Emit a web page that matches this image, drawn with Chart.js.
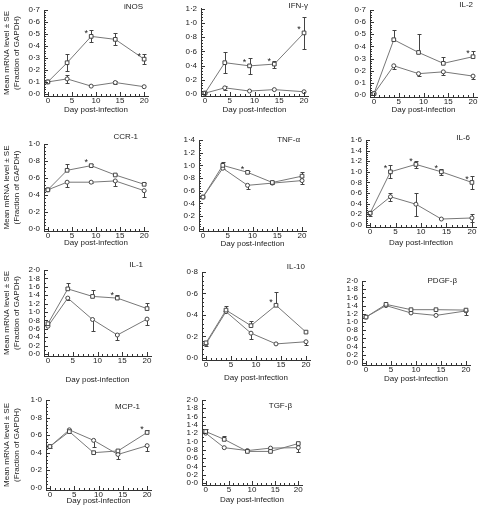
<!DOCTYPE html>
<html>
<head>
<meta charset="utf-8">
<script src="https://cdn.jsdelivr.net/npm/chart.js@4.4.0/dist/chart.umd.min.js"></script>
<style>
html, body { margin: 0; padding: 0; background: #fff; width: 481px; height: 505px; overflow: hidden; }
#wrap { position: relative; width: 481px; height: 505px; }
canvas { position: absolute; }
</style>
</head>
<body>
<div id="wrap"></div>
<script>
'use strict';
// sampling days, shared by all panels
var days = [0, 4, 9, 14, 20];
var xTickLabels = [0, 5, 10, 15, 20];

// iNOS
var inosA = [0.10, 0.26, 0.48, 0.455, 0.29];
var inosAErr = [0, 0.07, 0.05, 0.05, 0.04];
var inosB = [0.10, 0.125, 0.065, 0.095, 0.06];
var inosBErr = [0, 0.03, 0, 0.01, 0];
var inosStars = [2, 4];
// IFN-gamma
var ifnA = [0.01, 0.44, 0.395, 0.42, 0.86];
var ifnAErr = [0, 0.145, 0.115, 0.05, 0.22];
var ifnB = [0.01, 0.085, 0.04, 0.06, 0.03];
var ifnBErr = [0, 0.03, 0, 0, 0];
var ifnStars = [2, 3, 4];
// IL-2
var il2A = [0.01, 0.455, 0.35, 0.26, 0.315];
var il2AErr = [0, 0.08, 0.15, 0.05, 0.045];
var il2B = [0.01, 0.24, 0.175, 0.19, 0.155];
var il2BErr = [0, 0.03, 0.02, 0.025, 0.025];
var il2Stars = [4];
// CCR-1
var ccrA = [0.46, 0.69, 0.745, 0.635, 0.525];
var ccrAErr = [0, 0.07, 0.02, 0.01, 0.01];
var ccrB = [0.46, 0.55, 0.55, 0.565, 0.45];
var ccrBErr = [0, 0.06, 0.01, 0.06, 0.07];
var ccrStars = [2];
// TNF-alpha
var tnfA = [0.50, 1.0, 0.89, 0.73, 0.83];
var tnfAErr = [0, 0.05, 0.02, 0.02, 0.06];
var tnfB = [0.50, 0.955, 0.685, 0.72, 0.76];
var tnfBErr = [0, 0.02, 0.05, 0.02, 0.06];
var tnfStars = [2];
// IL-6
var il6A = [0.22, 1.0, 1.14, 1.0, 0.80];
var il6AErr = [0, 0.12, 0.06, 0.06, 0.13];
var il6B = [0.22, 0.53, 0.39, 0.11, 0.13];
var il6BErr = [0.05, 0.08, 0.22, 0, 0.07];
var il6Stars = [1, 2, 3, 4];
// IL-1
var il1A = [0.72, 1.55, 1.37, 1.33, 1.08];
var il1AErr = [0, 0.13, 0.15, 0.07, 0.14];
var il1B = [0.66, 1.33, 0.82, 0.45, 0.83];
var il1BErr = [0, 0.05, 0.27, 0.13, 0.15];
var il1Stars = [3];
// IL-10
var il10A = [0.14, 0.445, 0.30, 0.49, 0.24];
var il10AErr = [0, 0.04, 0.04, 0.12, 0];
var il10B = [0.13, 0.43, 0.23, 0.13, 0.15];
var il10BErr = [0.02, 0, 0.055, 0, 0.03];
var il10Stars = [3];
// PDGF-beta
var pdgfA = [1.12, 1.43, 1.30, 1.30, 1.29];
var pdgfAErr = [0, 0, 0, 0, 0];
var pdgfB = [1.12, 1.40, 1.22, 1.16, 1.27];
var pdgfBErr = [0, 0, 0, 0, 0.1];
var pdgfStars = [];
// MCP-1
var mcpA = [0.47, 0.64, 0.40, 0.42, 0.63];
var mcpAErr = [0, 0.03, 0, 0, 0.03];
var mcpB = [0.47, 0.66, 0.54, 0.38, 0.48];
var mcpBErr = [0.02, 0, 0.07, 0.05, 0.06];
var mcpStars = [4];
// TGF-beta
var tgfA = [1.24, 1.05, 0.76, 0.76, 0.95];
var tgfAErr = [0.05, 0.08, 0, 0, 0];
var tgfB = [1.20, 0.85, 0.78, 0.84, 0.85];
var tgfBErr = [0, 0, 0, 0, 0.1];
var tgfStars = [];

// box = [left, top, right, bottom] of the plot area on the page
var panels = [
  {name: 'iNOS', a: inosA, aErr: inosAErr, aSide: 'both', b: inosB, bErr: inosBErr, bSide: 'both', stars: inosStars,
   max: 0.7, step: 0.1, minor: 0.02, box: [44, 10, 148, 96], xTitleY: 110, title: [143, 7], yTitle: true},
  {name: 'IFN-γ', a: ifnA, aErr: ifnAErr, aSide: 'both', b: ifnB, bErr: ifnBErr, bSide: 'both', stars: ifnStars,
   max: 1.2, step: 0.2, minor: 0.04, box: [201, 8, 308, 96], xTitleY: 110, title: [308, 6]},
  {name: 'IL-2', a: il2A, aErr: il2AErr, aSide: 'up', b: il2B, bErr: il2BErr, bSide: 'down', stars: il2Stars,
   max: 0.7, step: 0.1, minor: 0.02, box: [370, 10, 477, 97], xTitleY: 110, title: [473, 5]},
  {name: 'CCR-1', a: ccrA, aErr: ccrAErr, aSide: 'up', b: ccrB, bErr: ccrBErr, bSide: 'down', stars: ccrStars,
   max: 1.0, step: 0.2, minor: 0.04, box: [44, 144, 148, 231], xTitleY: 243, title: [138, 137], yTitle: true},
  {name: 'TNF-α', a: tnfA, aErr: tnfAErr, aSide: 'up', b: tnfB, bErr: tnfBErr, bSide: 'down', stars: tnfStars,
   max: 1.4, step: 0.2, minor: 0.04, box: [199, 140, 306, 231], xTitleY: 244, title: [300, 140]},
  {name: 'IL-6', a: il6A, aErr: il6AErr, aSide: 'both', b: il6B, bErr: il6BErr, bSide: 'both', stars: il6Stars,
   max: 1.6, step: 0.2, minor: 0.04, box: [366, 140, 476, 227], xTitleY: 243, title: [470, 138]},
  {name: 'IL-1', a: il1A, aErr: il1AErr, aSide: 'up', b: il1B, bErr: il1BErr, bSide: 'down', stars: il1Stars,
   max: 2.0, step: 0.2, minor: 0.1, box: [44, 270, 151, 356], xTitleY: 380, title: [143, 265], yTitle: true},
  {name: 'IL-10', a: il10A, aErr: il10AErr, aSide: 'up', b: il10B, bErr: il10BErr, bSide: 'down', stars: il10Stars,
   max: 0.8, step: 0.2, minor: 0.04, box: [202, 272, 310, 360], xTitleY: 378, title: [305, 267]},
  {name: 'PDGF-β', a: pdgfA, aErr: pdgfAErr, aSide: 'up', b: pdgfB, bErr: pdgfBErr, bSide: 'down', stars: pdgfStars,
   max: 2.0, step: 0.2, minor: 0.1, box: [362, 281, 470, 365], xTitleY: 379, title: [457, 281]},
  {name: 'MCP-1', a: mcpA, aErr: mcpAErr, aSide: 'up', b: mcpB, bErr: mcpBErr, bSide: 'down', stars: mcpStars,
   max: 1.0, step: 0.2, minor: 0.04, box: [46, 400, 151, 490], xTitleY: 501, title: [140, 407], yTitle: true},
  {name: 'TGF-β', a: tgfA, aErr: tgfAErr, aSide: 'up', b: tgfB, bErr: tgfBErr, bSide: 'down', stars: tgfStars,
   max: 2.0, step: 0.2, minor: 0.1, box: [202, 400, 302, 485], xTitleY: 500, title: [292, 406]}
];

var FONT = 'Liberation Sans, Arial, Helvetica, sans-serif';
var INK = '#222';
Chart.defaults.font.family = FONT;
Chart.defaults.font.size = 8;
Chart.defaults.color = INK;

function pts(vals) {
  return days.map(function (d, i) { return {x: d, y: vals[i]}; });
}

// inward axis ticks, major and minor
function drawAxisTicks(chart, p) {
  var ctx = chart.ctx, xs = chart.scales.x, ys = chart.scales.y, area = chart.chartArea;
  ctx.save();
  ctx.strokeStyle = '#333';
  ctx.lineWidth = 1;
  ctx.beginPath();
  for (var d = 0; d <= 20; d++) {
    var px = Math.round(xs.getPixelForValue(d)) + 0.5;
    var len = d % 5 === 0 ? 4 : 2;
    ctx.moveTo(px, area.bottom);
    ctx.lineTo(px, area.bottom - len);
  }
  var n = Math.round(p.max / p.minor), per = Math.round(p.step / p.minor);
  for (var i = 0; i <= n; i++) {
    var py = Math.round(ys.getPixelForValue(i * p.minor)) + 0.5;
    var l2 = i % per === 0 ? 4 : 2;
    ctx.moveTo(area.left, py);
    ctx.lineTo(area.left + l2, py);
  }
  ctx.stroke();
  ctx.restore();
}

function drawErrors(chart, p) {
  var ctx = chart.ctx, xs = chart.scales.x, ys = chart.scales.y;
  ctx.save();
  ctx.strokeStyle = '#444';
  ctx.lineWidth = 1;
  ctx.beginPath();
  [[p.a, p.aErr, p.aSide], [p.b, p.bErr, p.bSide]].forEach(function (s) {
    for (var i = 0; i < days.length; i++) {
      var e = s[1][i];
      if (!e) continue;
      var px = Math.round(xs.getPixelForValue(days[i])) + 0.5;
      var hi = s[2] === 'down' ? s[0][i] : s[0][i] + e;
      var lo = s[2] === 'up' ? s[0][i] : s[0][i] - e;
      var yh = Math.round(ys.getPixelForValue(hi)) + 0.5;
      var yl = Math.round(ys.getPixelForValue(lo)) + 0.5;
      ctx.moveTo(px, yh);
      ctx.lineTo(px, yl);
      if (s[2] !== 'down') { ctx.moveTo(px - 2, yh); ctx.lineTo(px + 2, yh); }
      if (s[2] !== 'up') { ctx.moveTo(px - 2, yl); ctx.lineTo(px + 2, yl); }
    }
  });
  ctx.stroke();
  ctx.restore();
}

function drawMarks(chart, p, cl, ct) {
  var ctx = chart.ctx, xs = chart.scales.x, ys = chart.scales.y;
  ctx.save();
  ctx.fillStyle = INK;
  ctx.font = '9px ' + FONT;
  ctx.textBaseline = 'middle';
  ctx.textAlign = 'center';
  p.stars.forEach(function (i) {
    ctx.fillText('*', xs.getPixelForValue(days[i]) - 5, ys.getPixelForValue(p.a[i]) - 3);
  });
  ctx.font = '8px ' + FONT;
  ctx.textAlign = 'right';
  ctx.fillText(p.name, p.title[0] - cl, p.title[1] - ct);
  ctx.restore();
}

var wrap = document.getElementById('wrap');

panels.forEach(function (p) {
  var cl = p.yTitle ? 0 : p.box[0] - 32;
  var ct = Math.max(0, p.box[1] - 12);
  var cr = p.box[2] + 5;
  var cb = p.xTitleY + 5;
  var cv = document.createElement('canvas');
  cv.width = cr - cl;
  cv.height = cb - ct;
  cv.style.left = cl + 'px';
  cv.style.top = ct + 'px';
  cv.style.width = (cr - cl) + 'px';
  cv.style.height = (cb - ct) + 'px';
  wrap.appendChild(cv);

  var yMin = -0.025 * p.max;

  new Chart(cv.getContext('2d'), {
    type: 'line',
    data: {
      datasets: [{
        data: pts(p.a),
        borderColor: '#777', borderWidth: 1,
        pointStyle: 'rect', pointRadius: 2.6,
        pointBackgroundColor: '#fff', pointBorderColor: '#444', pointBorderWidth: 1
      }, {
        data: pts(p.b),
        borderColor: '#777', borderWidth: 1,
        pointStyle: 'circle', pointRadius: 2,
        pointBackgroundColor: '#fff', pointBorderColor: '#444', pointBorderWidth: 1
      }]
    },
    options: {
      responsive: false,
      animation: false,
      devicePixelRatio: 1,
      layout: {padding: {left: 0, right: cr - p.box[2], top: p.box[1] - ct, bottom: 0}},
      plugins: {legend: {display: false}, tooltip: {enabled: false}},
      scales: {
        x: {
          type: 'linear', min: -0.8, max: 20.8,
          grid: {display: false, drawTicks: false},
          border: {color: '#333', width: 1},
          ticks: {
            stepSize: 5, includeBounds: false, autoSkip: false, maxRotation: 0, padding: 0,
            callback: function (v) { return xTickLabels.indexOf(v) >= 0 ? String(v) : ''; }
          },
          title: {display: true, text: 'Day post-infection', padding: 0, font: {size: 8, lineHeight: 1.2}},
          afterFit: function (s) { s.height = cb - p.box[3]; }
        },
        y: {
          type: 'linear', min: yMin, max: p.max,
          grid: {display: false, drawTicks: false},
          border: {color: '#333', width: 1},
          ticks: {
            stepSize: p.step, includeBounds: false, autoSkip: false, padding: 4,
            callback: function (v) { return v < -1e-9 ? '' : Number(v).toFixed(1).replace('.', '·'); }
          },
          title: {
            display: !!p.yTitle,
            text: ['Mean mRNA level ± SE', '(Fraction of GAPDH)'],
            padding: {top: 2, bottom: 0},
            font: {size: 8, lineHeight: 1.25}
          },
          afterFit: function (s) { s.width = p.box[0] - cl; }
        }
      }
    },
    plugins: [{
      id: 'extras',
      beforeDatasetsDraw: function (chart) { drawErrors(chart, p); },
      afterDraw: function (chart) { drawAxisTicks(chart, p); drawMarks(chart, p, cl, ct); }
    }]
  });
});
</script>
</body>
</html>
